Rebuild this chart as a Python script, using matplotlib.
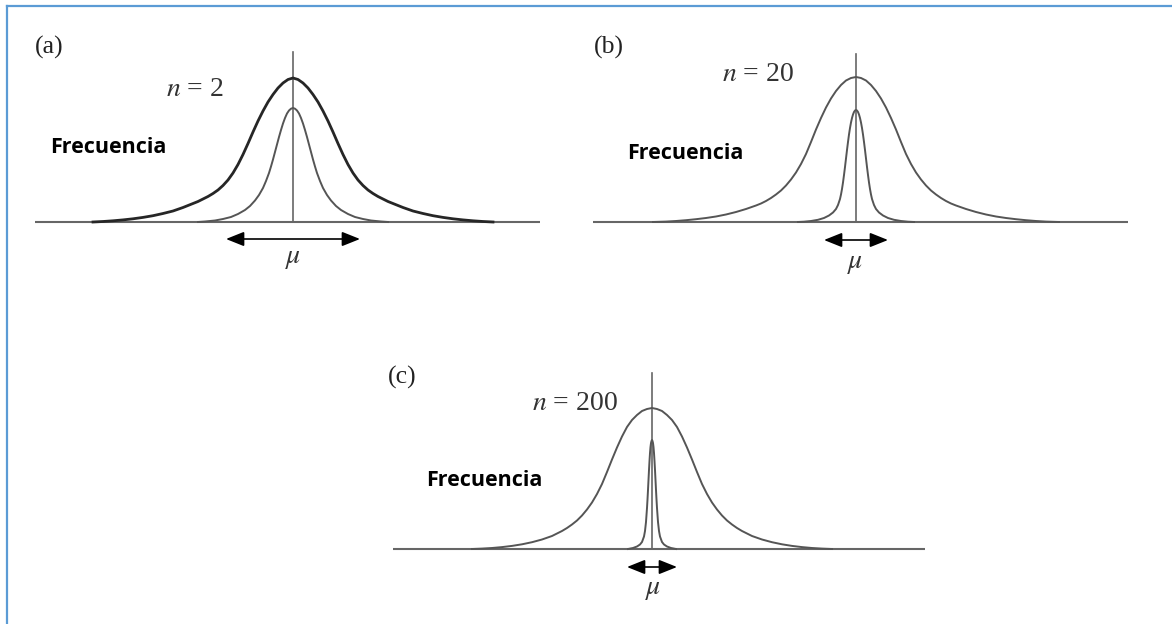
import numpy as np
import matplotlib.pyplot as plt
from matplotlib.lines import Line2D

plt.rcParams["font.family"] = "serif"
plt.rcParams["font.serif"] = ["Liberation Serif", "DejaVu Serif"]
plt.rcParams["mathtext.fontset"] = "stix"

W, H = 1172, 624

labels = ["(a)", "(b)", "(c)"]
sample_sizes = [2, 20, 200]

# half profiles (distance from mu, height above the axis), mirrored when drawn
pop_off = [
    [0, 5, 10, 15, 20, 25, 30, 35, 40, 45, 50, 55, 60, 65, 70, 75, 80, 85, 90, 95, 100,
     110, 120, 130, 140, 150, 160, 170, 180, 190, 200],
    [0, 5, 10, 15, 20, 25, 30, 35, 40, 45, 50, 55, 60, 65, 70, 75, 80, 85, 90, 95, 100,
     110, 120, 130, 140, 150, 160, 170, 180, 190, 203],
    [0, 5, 10, 15, 20, 25, 30, 35, 40, 45, 50, 55, 60, 65, 70, 75, 80, 85, 90, 95, 100,
     110, 120, 130, 140, 150, 160, 170, 180],
]
pop_h = [
    [144, 142.5, 139, 134, 127.5, 120, 111, 101, 90, 78.5, 67.5, 57.5, 49, 42, 36.5, 32,
     28.5, 25.5, 23, 20.5, 18.5, 14.5, 11, 8.5, 6.3, 4.6, 3.2, 2.1, 1.2, 0.5, 0],
    [145, 144, 141.5, 137, 131, 123.5, 114.5, 104, 92.5, 80, 68, 58, 49.5, 42.5, 36.5,
     31.5, 27.5, 24, 21, 18.5, 16.5, 13, 10, 7.5, 5.5, 4, 2.8, 1.8, 1, 0.4, 0],
    [141, 140, 138, 134, 129, 122, 112.5, 101.5, 89.5, 77, 65, 55, 46.5, 39.5, 33.5, 28.5,
     24.5, 21, 18, 15.5, 13, 9.5, 6.8, 4.7, 3.1, 1.9, 1.0, 0.4, 0],
]
mean_off = [
    [0, 2, 4, 6, 8, 10, 12, 14, 16, 18, 20, 22, 24, 27, 30, 34, 38, 43, 48, 55, 62, 70,
     78, 88, 95],
    [0, 1, 2, 3, 4, 5, 6, 7, 8, 9, 10, 11, 12, 13, 14, 15, 16, 18, 20, 23, 27, 32, 38,
     45, 52, 58],
    [0, 0.5, 1, 1.5, 2, 2.5, 3, 3.5, 4, 4.5, 5, 6, 7, 8, 10, 12, 15, 19, 24],
]
mean_h = [
    [114, 113.3, 111.5, 108.5, 104, 98.5, 92, 85, 77.5, 70, 62.5, 55.5, 49, 41, 34, 27,
     21.5, 16, 12, 8, 5, 3, 1.5, 0.5, 0],
    [112, 111.5, 110, 107.5, 104, 99.5, 94, 87.5, 80, 72, 63.5, 55, 47, 39.5, 33, 27.5,
     23, 17, 13, 9.5, 6.5, 4, 2.2, 1, 0.3, 0],
    [109, 108, 106, 102, 96, 88, 79, 69, 59, 49.5, 41, 27, 18, 12.5, 7, 4.5, 2.5, 1, 0],
]
spread = [67, 32, 25]   # half length of the arrow under mu

# panel boxes in pixels: (x0, x1, y0, y1, mu_x, axis_y)
boxes = [(20, 560, 25, 285, 293, 222),
         (575, 1160, 25, 285, 856, 222),
         (370, 950, 355, 615, 652, 549)]
axis_ext = [(-258, 247), (-263, 272), (-259, 273)]
vline_top = [170, 168, 176]
arrow_y = [-17, -18, -18]
label_pos = [(-258, 175), (-262, 175), (-264, 172)]
n_pos = [(-127, 132), (-134, 147), (-120, 146)]
freq_pos = [(-243, 74), (-229, 68), (-226, 68)]
mu_pos = [(0, -37), (-1, -42), (1, -40)]
pop_style = [dict(color="#262626", lw=2.0), dict(color="#555555", lw=1.4),
             dict(color="#555555", lw=1.4)]


def mirror(off, h):
    off, h = np.asarray(off, float), np.asarray(h, float)
    return np.r_[-off[::-1], off[1:]], np.r_[h[::-1], h[1:]]


fig = plt.figure(figsize=(W / 100, H / 100), dpi=100)

for i in range(3):
    x0, x1, y0, y1, cx, by = boxes[i]
    ax = fig.add_axes([x0 / W, 1 - y1 / H, (x1 - x0) / W, (y1 - y0) / H])
    ax.set_xlim(x0 - cx, x1 - cx)
    ax.set_ylim(by - y1, by - y0)
    ax.axis("off")

    ax.plot(axis_ext[i], [0, 0], color="#666666", lw=1.5, solid_capstyle="butt")
    ax.plot([0, 0], [0, vline_top[i]], color="#666666", lw=1.2)

    px, py = mirror(pop_off[i], pop_h[i])
    ax.plot(px, py, **pop_style[i])
    mx, my = mirror(mean_off[i], mean_h[i])
    ax.plot(mx, my, color="#555555", lw=1.4)

    ax.annotate("", xy=(-spread[i], arrow_y[i]), xytext=(spread[i], arrow_y[i]),
                arrowprops=dict(arrowstyle="<|-|>,head_length=0.55,head_width=0.22",
                                color="black", lw=1.2, mutation_scale=20,
                                shrinkA=0, shrinkB=0))

    ax.text(*label_pos[i], labels[i], fontsize=18.5, ha="left", va="center",
            color="#222222")
    ax.text(*n_pos[i], rf"$n$ = {sample_sizes[i]}", fontsize=20, ha="left",
            va="center", color="#333333")
    ax.text(*freq_pos[i], "Frecuencia", family=["Open Sans", "DejaVu Sans"],
            fontweight="bold", fontsize=15.5, ha="left", va="center", color="black")
    ax.text(*mu_pos[i], r"$\mu$", fontsize=20, ha="center", va="center",
            color="#333333")

# frame lines on the left and top
blue = "#5b9bd5"
fig.add_artist(Line2D([7 / W, 7 / W], [0, 1 - 6 / H], color=blue, lw=1.6))
fig.add_artist(Line2D([7 / W, 1], [1 - 6 / H, 1 - 6 / H], color=blue, lw=1.6))

fig.savefig("out.png", dpi=100, facecolor="white")
